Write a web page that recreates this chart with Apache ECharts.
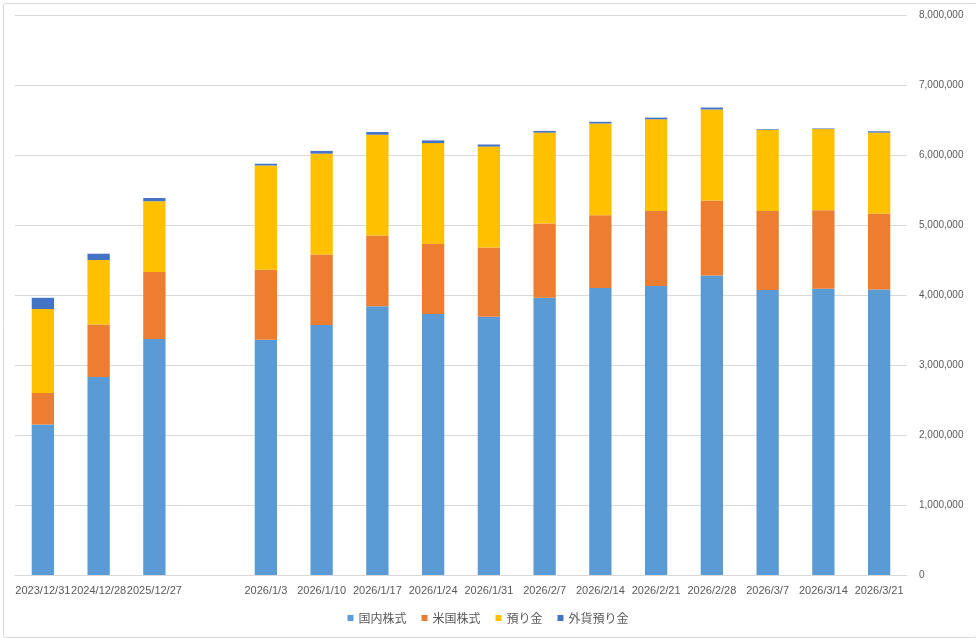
<!DOCTYPE html>
<html>
<head>
<meta charset="utf-8">
<script src="https://cdn.jsdelivr.net/npm/echarts@6/dist/echarts.min.js"></script>
<style>
  html, body { margin: 0; padding: 0; background: #fff; }
  #main { width: 976px; height: 638px; }
</style>
</head>
<body>
<div id="main"></div>
<script>
var dates = ['2023/12/31', '2024/12/28', '2025/12/27', '', '2026/1/3', '2026/1/10', '2026/1/17', '2026/1/24',
    '2026/1/31', '2026/2/7', '2026/2/14', '2026/2/21', '2026/2/28', '2026/3/7', '2026/3/14', '2026/3/21'];
var kokunai = [2150000, 2830000, 3370000, null, 3360000, 3570000, 3840000, 3730000,
    3690000, 3960000, 4100000, 4130000, 4280000, 4070000, 4090000, 4080000];
var beikoku = [450000, 750000, 960000, null, 1000000, 1010000, 1010000, 1000000,
    990000, 1060000, 1040000, 1070000, 1070000, 1130000, 1120000, 1080000];
var azukari = [1200000, 920000, 1010000, null, 1490000, 1440000, 1440000, 1440000,
    1440000, 1300000, 1310000, 1310000, 1300000, 1160000, 1160000, 1160000];
var gaika = [160000, 90000, 45000, null, 25000, 38000, 38000, 38000,
    30000, 24000, 24000, 24000, 28000, 9000, 9000, 19000];
var names = ['国内株式', '米国株式', '預り金', '外貨預り金'];
var colors = ['#5B9BD5', '#ED7D31', '#FFC000', '#4472C4'];

var myChart = echarts.init(document.getElementById('main'));
var font = "'Liberation Sans', 'Noto Sans CJK JP', sans-serif";

var makeSeries = function(name, data, color) {
    return {
        name: name,
        type: 'bar',
        stack: 'total',
        barCategoryGap: '60%',
        itemStyle: { color: color },
        data: data
    };
};

var option = {
    animation: false,
    textStyle: { fontFamily: font },
    color: colors,
    graphic: [{
        type: 'rect',
        left: 1, top: 1,
        shape: { width: 973, height: 634, r: 2 },
        style: { fill: 'none', stroke: '#D9D9D9', lineWidth: 1 }
    }],
    legend: {
        data: names,
        bottom: 9,
        left: 'center',
        itemWidth: 6,
        itemHeight: 6,
        itemGap: 15,
        icon: 'rect',
        textStyle: { color: '#595959', fontSize: 12, fontFamily: "'Noto Sans CJK JP', sans-serif" }
    },
    grid: { left: 15, right: 69, top: 15, bottom: 63, containLabel: false },
    xAxis: {
        type: 'category',
        data: dates,
        axisTick: { show: false },
        axisLine: { lineStyle: { color: '#D9D9D9' } },
        axisLabel: { interval: 0, color: '#595959', fontSize: 11, margin: 10 }
    },
    yAxis: {
        type: 'value',
        position: 'right',
        min: 0,
        max: 8000000,
        interval: 1000000,
        axisLine: { show: false },
        axisTick: { show: false },
        splitLine: { lineStyle: { color: '#D9D9D9' } },
        axisLabel: {
            color: '#595959',
            fontSize: 10,
            margin: 12,
            formatter: function(v) { return v.toLocaleString('en-US'); }
        }
    },
    series: [
        makeSeries(names[0], kokunai, colors[0]),
        makeSeries(names[1], beikoku, colors[1]),
        makeSeries(names[2], azukari, colors[2]),
        makeSeries(names[3], gaika, colors[3])
    ]
};

myChart.setOption(option);
</script>
</body>
</html>
